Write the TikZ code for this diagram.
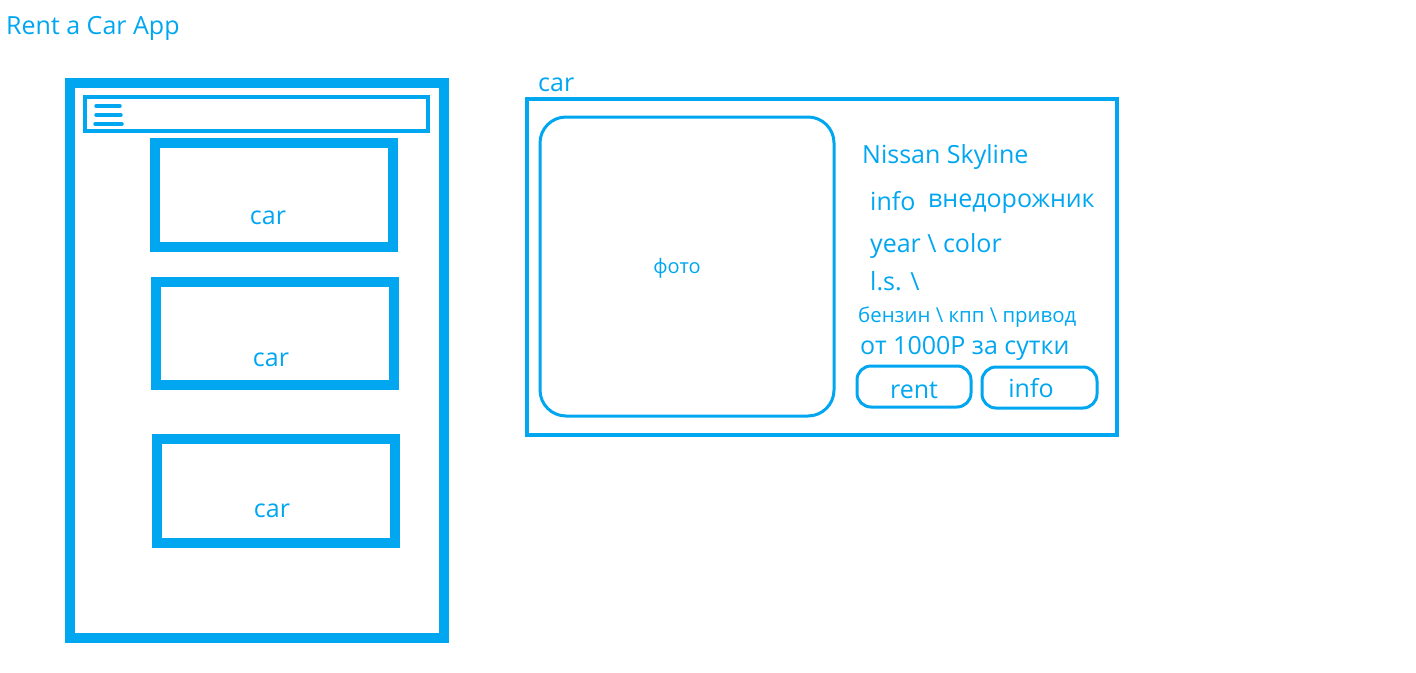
\documentclass[tikz,border=0pt]{standalone}
\usepackage{fontspec}
\setmainfont{Open Sans}
\definecolor{ui}{RGB}{0,166,240}
\begin{document}
\begin{tikzpicture}[x=1pt,y=-1pt,
  every node/.style={text=ui,inner sep=0pt,font=\fontsize{25}{28}\selectfont},
  thick box/.style={draw=ui,line width=10pt},
  thin box/.style={draw=ui,line width=3.5pt},
  round box/.style={draw=ui,line width=3pt,rounded corners=#1},
  burger/.style={draw=ui,line width=3.5pt,line cap=round},
  small/.style={font=\fontsize{20.4}{24}\selectfont},
  tiny/.style={font=\fontsize{20}{24}\selectfont}]
\useasboundingbox (0,0) rectangle (1416,672);
% title
\node[anchor=west] (title) at (6,28) {Rent a Car App};
% phone
\draw[thick box] (70,83) rectangle (444,638);
\draw[draw=ui,line width=4pt] (85,97) rectangle (428,131);
\coordinate (b1a) at (96,106); \coordinate (b1b) at (120,106);
\coordinate (b2a) at (96,115); \coordinate (b2b) at (121,115);
\coordinate (b3a) at (95,124); \coordinate (b3b) at (122,124);
\draw[burger] (b1a) -- (b1b);
\draw[burger] (b2a) -- (b2b);
\draw[burger] (b3a) -- (b3b);
\draw[thick box] (155,143) rectangle (393,247);
\node (c1) at (268,218) {car};
\draw[thick box] (156,282) rectangle (394,385);
\node (c2) at (271,360) {car};
\draw[thick box] (157,439) rectangle (395,543);
\node (c3) at (272,511) {car};
% detail card
\node[anchor=west] (cardlbl) at (538,85) {car};
\draw[thin box] (527,99) rectangle (1117,435);
\draw[round box=26pt] (540,117) rectangle (834,416);
\node[tiny] (foto) at (677,268) {фото};
\node[anchor=west] (name) at (862,157) {Nissan Skyline};
\node[anchor=west] (info1) at (870,201) {info};
\node[anchor=west] (type) at (928,204) {внедорожник};
\node[anchor=west] (year) at (870,246) {year \textbackslash\ color};
\node[anchor=west] (ls) at (870,281) {l.s. \textbackslash};
\node[anchor=west,small] (fuel) at (858,317) {бензин \textbackslash\ кпп \textbackslash\ привод};
\node[anchor=west] (price) at (860,348) {от 1000Р за сутки};
\draw[round box=14pt] (857,366) rectangle (971,407);
\node (rent) at (914,390) {rent};
\draw[round box=14pt] (982,367) rectangle (1097,408);
\node (info2) at (1031,388) {info};
\end{tikzpicture}
\end{document}
